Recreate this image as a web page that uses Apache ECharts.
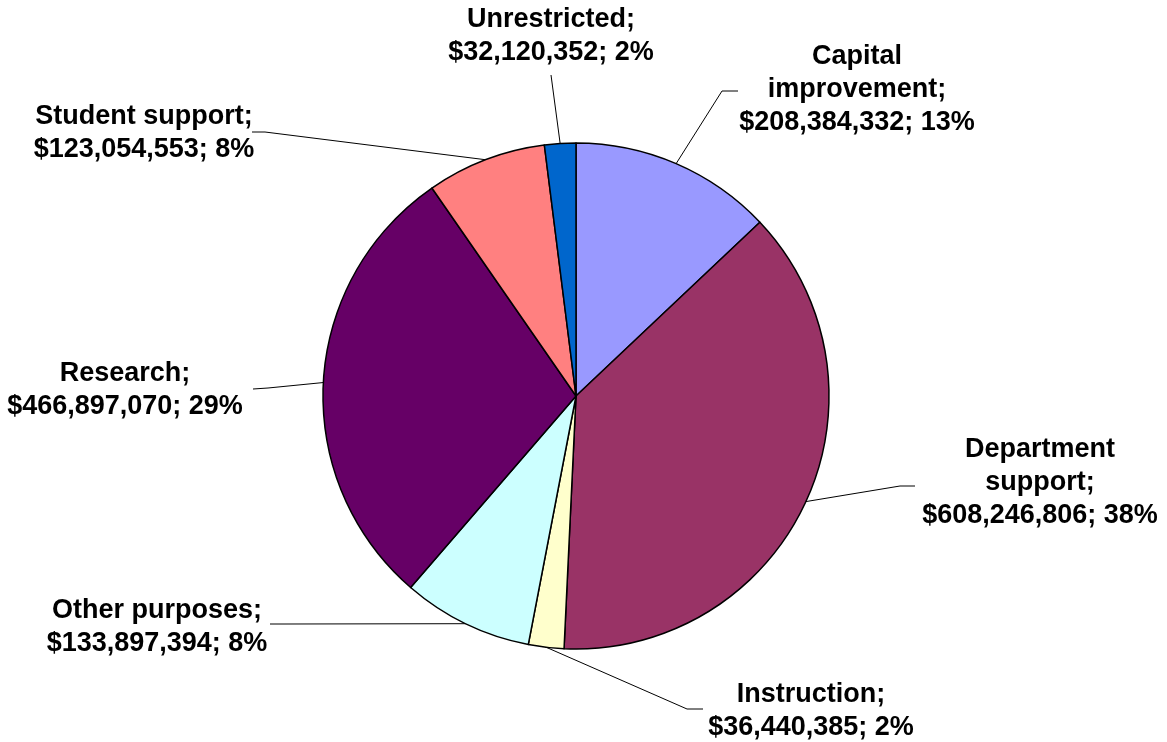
<!DOCTYPE html>
<html lang="en">
<head>
<meta charset="UTF-8">
<title>Pie</title>
<script src="https://cdn.jsdelivr.net/npm/echarts@6/dist/echarts.min.js"></script>
<style>
  html, body { margin: 0; padding: 0; background: #fff; }
  #chart { width: 1167px; height: 742px; }
</style>
</head>
<body>
<div id="chart"></div>
<script type="text/javascript">
// data
var categories = ['Capital improvement', 'Department support', 'Instruction', 'Other purposes',
                  'Research', 'Student support', 'Unrestricted'];
var amounts = [208384332, 608246806, 36440385, 133897394, 466897070, 123054553, 32120352];
var colors = ['#9999FF', '#993366', '#FFFFCC', '#CCFFFF', '#660066', '#FF8080', '#0066CC'];

// where each label sits (center) and where its leader line bends / ends
var labelSpots = [
  { x: 857, y: 90,  bend: [722, 91],  end: [738, 91] },
  { x: 1040, y: 483, bend: [900, 486], end: [915, 486] },
  { x: 811, y: 711, bend: [687, 709], end: [703, 709] },
  { x: 157, y: 627, bend: [285, 624], end: [270, 624] },
  { x: 125, y: 390, bend: [268, 388], end: [253, 389] },
  { x: 144, y: 133, bend: [265, 132], end: [252, 132] },
  { x: 551, y: 36,  bend: [551, 75],  end: [551, 75] }
];
var twoWordBreak = ['Capital improvement', 'Department support'];

var myChart = echarts.init(document.getElementById('chart'));

var pieData = [];
for (var i = 0; i < categories.length; i++) {
  pieData.push({ name: categories[i], value: amounts[i], itemStyle: { color: colors[i] } });
}

myChart.setOption({
  animation: false,
  series: [{
    type: 'pie',
    center: [576, 396],
    radius: 253,
    startAngle: 90,
    clockwise: true,
    avoidLabelOverlap: false,
    percentPrecision: 0,
    itemStyle: { borderColor: '#000', borderWidth: 1.5 },
    label: {
      show: true,
      position: 'outside',
      color: '#000',
      fontSize: 27,
      lineHeight: 33,
      fontWeight: 'bold',
      fontFamily: '"Liberation Sans", Arial, sans-serif',
      align: 'center',
      formatter: function (p) {
        var nm = twoWordBreak.indexOf(p.name) >= 0 ? p.name.replace(' ', '\n') : p.name;
        return nm + ';\n$' + echarts.format.addCommas(p.value) + '; ' + Math.round(p.percent) + '%';
      }
    },
    labelLine: {
      show: true,
      lineStyle: { color: '#000', width: 1 }
    },
    labelLayout: function (params) {
      var s = labelSpots[params.dataIndex];
      var edge = params.labelLinePoints ? params.labelLinePoints[0] : s.bend;
      return {
        x: s.x,
        y: s.y,
        align: 'center',
        verticalAlign: 'middle',
        labelLinePoints: [edge, s.bend, s.end]
      };
    },
    data: pieData
  }]
});
</script>
</body>
</html>
